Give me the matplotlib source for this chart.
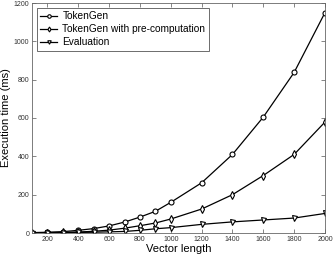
import numpy as np
import matplotlib.pyplot as plt

plt.rcParams['font.family'] = ['Liberation Sans', 'DejaVu Sans']

vec_len = [100, 200, 300, 400, 500, 600, 700, 800, 900, 1000, 1200, 1400, 1600, 1800, 2000]
tokengen = [2, 4, 7, 14, 23, 37, 57, 83, 113, 160, 262, 410, 605, 838, 1150]
tokengen_pre = [1, 2, 3, 5, 9, 15, 25, 38, 52, 73, 125, 200, 300, 410, 579]
evaluation = [0.5, 1, 2, 3, 4, 6, 8, 14, 22, 28, 45, 58, 68, 78, 102]

fig = plt.figure(figsize=(3.33, 2.59), dpi=100)
ax = fig.add_axes([32 / 333, 26 / 259, 293 / 333, 230 / 259])

style = dict(color='black', linewidth=0.9, markersize=3.6, markerfacecolor='white',
             markeredgecolor='black', markeredgewidth=0.8)
ax.plot(vec_len, tokengen, marker='o', label='TokenGen', **style)
ax.plot(vec_len, tokengen_pre, marker='d', label='TokenGen with pre-computation', **style)
ax.plot(vec_len, evaluation, marker='v', label='Evaluation', **style)

ax.set_xlim(100, 2000)
ax.set_ylim(0, 1200)
ax.set_xticks(np.arange(200, 2001, 200))
ax.set_yticks(np.arange(0, 1201, 200))
ax.tick_params(direction='in', top=True, right=True, labelsize=5, length=3,
               width=0.5, color='#555555', labelcolor='#333333', pad=2)
for s in ax.spines.values():
    s.set_color('#666666')
    s.set_linewidth(0.6)

ax.set_xlabel('Vector length', fontsize=8, labelpad=1)
ax.set_ylabel('Execution time (ms)', fontsize=8, labelpad=2)

leg = ax.legend(loc='upper left', fontsize=7.3, fancybox=False, framealpha=1,
                borderaxespad=0.45, handlelength=1.7, labelspacing=0.3,
                borderpad=0.35, handletextpad=0.5, markerscale=0.7)
leg.get_frame().set_edgecolor('#555555')
leg.get_frame().set_linewidth(0.6)

fig.savefig('out.png', dpi=100)
